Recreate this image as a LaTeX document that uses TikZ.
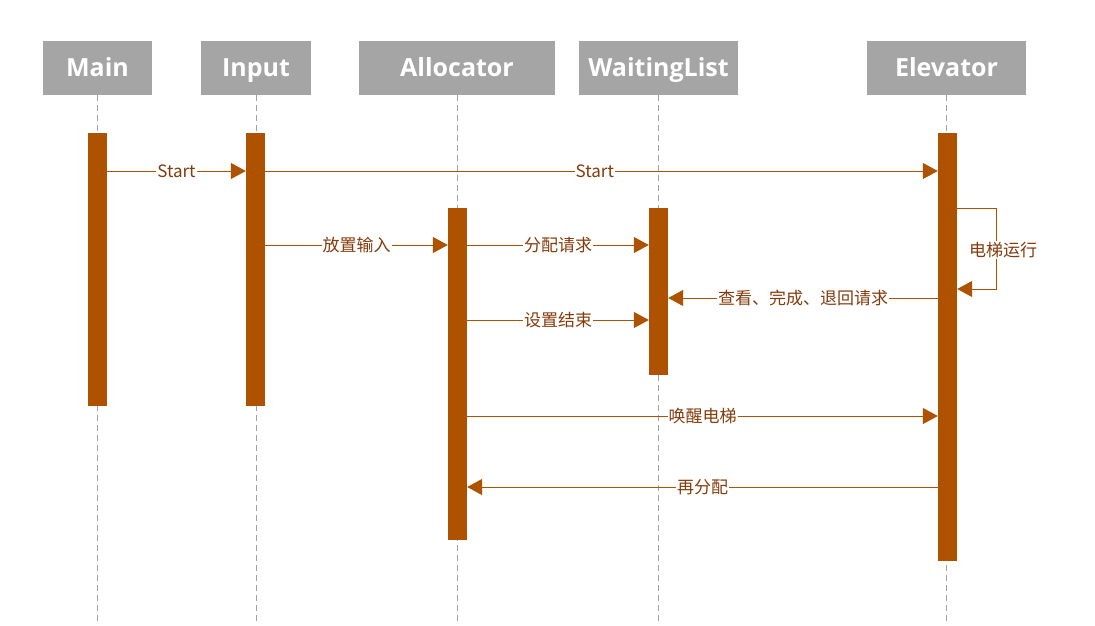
\documentclass[tikz,border=0pt]{standalone}
\usepackage{fontspec}
\setmainfont{Open Sans}
\newfontfamily\cjk{Noto Sans CJK SC}
\usetikzlibrary{arrows.meta}
\definecolor{barc}{HTML}{AE5200}
\definecolor{txtc}{HTML}{843C0C}
\definecolor{headc}{HTML}{A5A5A5}
\definecolor{lifec}{HTML}{A0A0A0}
\newcommand\hd[1]{\raisebox{-2pt}{#1}}
\tikzset{
  head/.style={fill=headc, text=white, font=\fontsize{25}{30}\selectfont\bfseries, inner sep=0pt, minimum height=54pt, text height=18pt, text depth=6pt},
  bar/.style={fill=barc, inner sep=0pt, minimum width=19pt},
  life/.style={draw=lifec, line width=1pt, dash pattern=on 6pt off 4pt},
  msg/.style={draw=barc, line width=1pt, -{Triangle[length=15pt,width=16pt]}},
  lbl/.style={fill=white, text=txtc, font=\cjk\fontsize{17}{20}\selectfont, inner sep=1pt}
}
\begin{document}
\begin{tikzpicture}[x=1pt,y=-1pt]
\useasboundingbox (0,0) rectangle (1095,625);
% headers
\node[head, minimum width=109pt] (main) at (97.5,68) {\hd{Main}};
\node[head, minimum width=110pt] (input) at (256,68) {\hd{Input}};
\node[head, minimum width=196pt] (alloc) at (457,68) {\hd{Allocator}};
\node[head, minimum width=159pt] (wait) at (658.5,68) {\hd{WaitingList}};
\node[head, minimum width=159pt] (elev) at (946.5,68) {\hd{Elevator}};
% lifelines
\coordinate (bottom) at (0,625);
\foreach \n in {main,input,alloc,wait,elev}
  \draw[life] (\n.south) -- (\n.south |- bottom);
% activation bars
\node[bar, minimum height=273pt] (mb) at (97.5,269.5) {};
\node[bar, minimum height=273pt] (ib) at (255.5,269.5) {};
\node[bar, minimum height=332pt] (ab) at (457.5,374) {};
\node[bar, minimum height=167pt] (wb) at (658.5,291.5) {};
\node[bar, minimum height=428pt] (eb) at (947.5,347) {};
% messages
\coordinate (y1) at (0,171);
\coordinate (y2) at (0,245);
\coordinate (y3) at (0,298);
\coordinate (y4) at (0,320);
\coordinate (y5) at (0,416);
\coordinate (y6) at (0,487);
\coordinate (ys) at (0,208);
\coordinate (ye) at (0,289);
\draw[msg] (mb.east |- y1) -- node[lbl]{Start} (ib.west |- y1);
\draw[msg] (ib.east |- y1) -- node[lbl, pos=0.49]{Start} (eb.west |- y1);
\draw[msg] (ib.east |- y2) -- node[lbl]{放置输入} (ab.west |- y2);
\draw[msg] (ab.east |- y2) -- node[lbl]{分配请求} (wb.west |- y2);
\draw[msg] (eb.west |- y3) -- node[lbl]{查看、完成、退回请求} (wb.east |- y3);
\draw[msg] (ab.east |- y4) -- node[lbl]{设置结束} (wb.west |- y4);
\draw[msg] (ab.east |- y5) -- node[lbl]{唤醒电梯} (eb.west |- y5);
\draw[msg] (eb.west |- y6) -- node[lbl]{再分配} (ab.east |- y6);
\draw[msg] (eb.east |- ys) -- ++(39,0) -- node[lbl, xshift=7pt, pos=0.52]{电梯运行} ++(0,81) -- (eb.east |- ye);
\end{tikzpicture}
\end{document}
